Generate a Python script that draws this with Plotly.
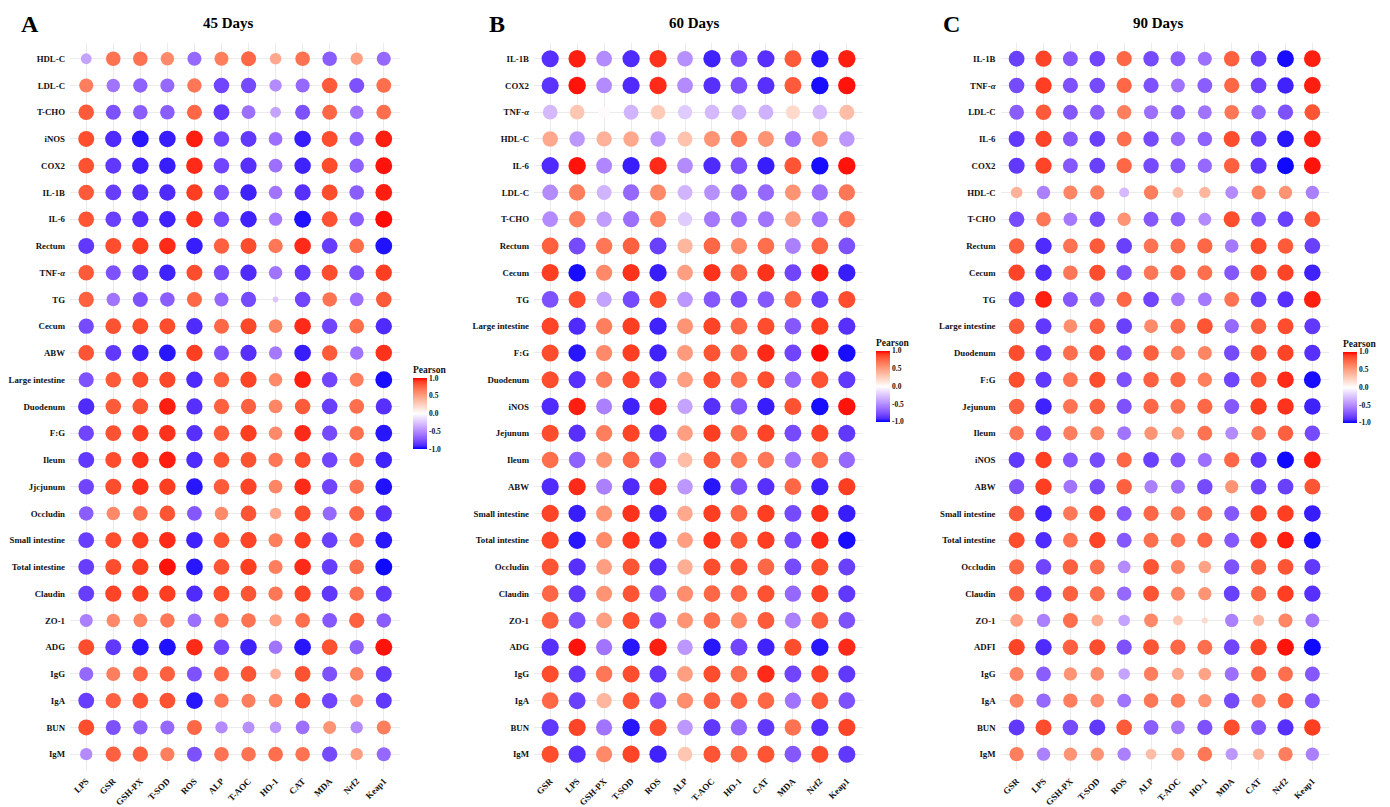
import plotly.graph_objects as go

# ---------------- data ----------------
cols_A = ["LPS", "GSR", "GSH-PX", "T-SOD", "ROS", "ALP", "T-AOC", "HO-1", "CAT", "MDA", "Nrf2", "Keap1"]
rows_A = ["HDL-C", "LDL-C", "T-CHO", "iNOS", "COX2", "IL-1B", "IL-6", "Rectum", "TNF-<i>α</i>", "TG",
          "Cecum", "ABW", "Large intestine", "Duodenum", "F:G", "Ileum", "Jjcjunum", "Occludin",
          "Small intestine", "Total intestine", "Claudin", "ZO-1", "ADG", "IgG", "IgA", "BUN", "IgM"]
vals_A = [
    [-0.4, 0.7, 0.7, 0.6, -0.65, 0.65, 0.75, 0.45, 0.7, -0.7, 0.5, -0.65],
    [0.65, -0.6, -0.68, -0.65, 0.68, -0.8, -0.78, -0.5, -0.65, 0.8, -0.75, 0.72],
    [0.8, -0.75, -0.7, -0.7, 0.75, -0.85, -0.62, -0.4, -0.75, 0.75, -0.6, 0.72],
    [0.85, -0.9, -0.95, -0.93, 0.95, -0.8, -0.85, -0.62, -0.93, 0.85, -0.68, 0.95],
    [0.83, -0.85, -0.92, -0.93, 0.93, -0.8, -0.88, -0.62, -0.92, 0.85, -0.68, 0.97],
    [0.8, -0.83, -0.88, -0.9, 0.9, -0.78, -0.92, -0.6, -0.88, 0.85, -0.7, 0.95],
    [0.82, -0.82, -0.88, -0.92, 0.92, -0.78, -0.92, -0.58, -0.96, 0.83, -0.7, 0.98],
    [-0.85, 0.85, 0.9, 0.93, -0.93, 0.78, 0.85, 0.68, 0.93, -0.83, 0.72, -0.96],
    [0.8, -0.75, -0.85, -0.92, 0.85, -0.78, -0.9, -0.6, -0.85, 0.85, -0.75, 0.9],
    [0.78, -0.6, -0.75, -0.7, 0.75, -0.65, -0.78, -0.25, -0.8, 0.7, -0.62, 0.8],
    [-0.78, 0.83, 0.85, 0.85, -0.9, 0.75, 0.87, 0.62, 0.93, -0.8, 0.72, -0.9],
    [0.82, -0.85, -0.92, -0.95, 0.9, -0.75, -0.88, -0.58, -0.93, 0.8, -0.6, 0.92],
    [-0.75, 0.8, 0.85, 0.87, -0.9, 0.78, 0.88, 0.6, 0.95, -0.8, 0.65, -0.97],
    [-0.9, 0.8, 0.82, 0.95, -0.88, 0.78, 0.78, 0.62, 0.8, -0.82, 0.72, -0.88],
    [-0.8, 0.83, 0.9, 0.92, -0.88, 0.8, 0.9, 0.6, 0.93, -0.78, 0.7, -0.95],
    [-0.85, 0.85, 0.92, 0.95, -0.9, 0.82, 0.83, 0.68, 0.85, -0.8, 0.72, -0.92],
    [-0.8, 0.85, 0.92, 0.9, -0.95, 0.8, 0.88, 0.62, 0.93, -0.8, 0.7, -0.96],
    [-0.7, 0.6, 0.72, 0.82, -0.72, 0.6, 0.82, 0.45, 0.85, -0.65, 0.75, -0.88],
    [-0.83, 0.85, 0.9, 0.93, -0.92, 0.82, 0.88, 0.65, 0.9, -0.82, 0.72, -0.95],
    [-0.83, 0.85, 0.9, 0.97, -0.95, 0.82, 0.9, 0.65, 0.93, -0.83, 0.72, -0.98],
    [-0.83, 0.88, 0.9, 0.9, -0.9, 0.85, 0.82, 0.68, 0.88, -0.85, 0.7, -0.85],
    [-0.55, 0.6, 0.62, 0.68, -0.62, 0.68, 0.7, 0.5, 0.72, -0.72, 0.78, -0.7],
    [0.85, -0.85, -0.95, -0.96, 0.93, -0.8, -0.92, -0.6, -0.95, 0.83, -0.68, 0.97],
    [-0.65, 0.65, 0.75, 0.78, -0.75, 0.75, 0.82, 0.4, 0.83, -0.75, 0.62, -0.85],
    [-0.83, 0.78, 0.82, 0.83, -0.95, 0.68, 0.65, 0.62, 0.82, -0.8, 0.55, -0.85],
    [0.85, -0.75, -0.68, -0.65, 0.75, -0.5, -0.48, -0.45, -0.62, 0.55, -0.5, 0.65],
    [-0.5, 0.78, 0.78, 0.65, -0.75, 0.7, 0.7, 0.72, 0.7, -0.78, 0.5, -0.65],
]

cols_B = ["GSR", "LPS", "GSH-PX", "T-SOD", "ROS", "ALP", "T-AOC", "HO-1", "CAT", "MDA", "Nrf2", "Keap1"]
rows_B = ["IL-1B", "COX2", "TNF-<i>α</i>", "HDL-C", "IL-6", "LDL-C", "T-CHO", "Rectum", "Cecum", "TG",
          "Large intestine", "F:G", "Duodenum", "iNOS", "Jejunum", "Ileum", "ABW", "Small intestine",
          "Total intestine", "Occludin", "Claudin", "ZO-1", "ADG", "IgG", "IgA", "BUN", "IgM"]
vals_B = [
    [-0.88, 0.95, -0.5, -0.9, 0.92, -0.48, -0.92, -0.75, -0.88, 0.8, -0.95, 0.95],
    [-0.87, 0.97, -0.5, -0.9, 0.93, -0.5, -0.88, -0.75, -0.88, 0.8, -0.97, 0.97],
    [-0.3, 0.3, 0.02, -0.32, 0.28, -0.22, -0.3, -0.33, -0.33, 0.2, -0.3, 0.35],
    [0.45, -0.45, 0.4, 0.45, -0.45, 0.32, 0.55, 0.65, 0.55, -0.6, 0.55, -0.45],
    [-0.9, 0.97, -0.52, -0.93, 0.93, -0.5, -0.9, -0.75, -0.93, 0.82, -0.97, 0.97],
    [-0.5, 0.65, -0.32, -0.65, 0.6, -0.32, -0.48, -0.65, -0.65, 0.55, -0.62, 0.68],
    [-0.5, 0.65, -0.42, -0.62, 0.62, -0.22, -0.58, -0.6, -0.6, 0.5, -0.6, 0.68],
    [0.78, -0.78, 0.68, 0.78, -0.82, 0.38, 0.75, 0.6, 0.72, -0.55, 0.75, -0.75],
    [0.9, -0.97, 0.6, 0.92, -0.93, 0.5, 0.92, 0.78, 0.92, -0.8, 0.95, -0.93],
    [-0.75, 0.85, -0.4, -0.78, 0.85, -0.45, -0.72, -0.75, -0.72, 0.75, -0.82, 0.85],
    [0.88, -0.9, 0.65, 0.9, -0.92, 0.55, 0.88, 0.75, 0.85, -0.72, 0.9, -0.88],
    [0.85, -0.95, 0.6, 0.9, -0.92, 0.52, 0.82, 0.75, 0.93, -0.8, 0.98, -0.97],
    [0.85, -0.88, 0.65, 0.88, -0.85, 0.5, 0.85, 0.7, 0.85, -0.65, 0.83, -0.85],
    [-0.9, 0.95, -0.55, -0.92, 0.93, -0.4, -0.88, -0.72, -0.93, 0.83, -0.97, 0.97],
    [0.85, -0.88, 0.65, 0.88, -0.9, 0.5, 0.9, 0.72, 0.88, -0.78, 0.88, -0.85],
    [0.72, -0.68, 0.55, 0.75, -0.68, 0.35, 0.8, 0.65, 0.68, -0.6, 0.72, -0.65],
    [-0.9, 0.93, -0.55, -0.9, 0.92, -0.45, -0.95, -0.75, -0.88, 0.75, -0.92, 0.9],
    [0.88, -0.93, 0.55, 0.92, -0.92, 0.45, 0.9, 0.75, 0.9, -0.78, 0.92, -0.93],
    [0.88, -0.95, 0.6, 0.92, -0.92, 0.5, 0.92, 0.8, 0.9, -0.78, 0.93, -0.97],
    [0.82, -0.88, 0.5, 0.82, -0.88, 0.42, 0.85, 0.83, 0.75, -0.78, 0.85, -0.82],
    [0.75, -0.85, 0.55, 0.82, -0.75, 0.58, 0.75, 0.75, 0.83, -0.65, 0.88, -0.85],
    [0.78, -0.75, 0.5, 0.85, -0.72, 0.55, 0.72, 0.6, 0.8, -0.55, 0.78, -0.75],
    [-0.88, 0.97, -0.6, -0.95, 0.95, -0.45, -0.95, -0.8, -0.92, 0.85, -0.95, 0.93],
    [0.85, -0.85, 0.68, 0.85, -0.85, 0.5, 0.85, 0.72, 0.93, -0.8, 0.88, -0.85],
    [0.75, -0.82, 0.38, 0.82, -0.72, 0.58, 0.78, 0.75, 0.75, -0.6, 0.8, -0.75],
    [-0.85, 0.88, -0.6, -0.95, 0.85, -0.45, -0.85, -0.65, -0.85, 0.7, -0.88, 0.88],
    [0.85, -0.88, 0.6, 0.88, -0.92, 0.3, 0.82, 0.75, 0.82, -0.72, 0.85, -0.85],
]

cols_C = ["GSR", "LPS", "GSH-PX", "T-SOD", "ROS", "ALP", "T-AOC", "HO-1", "MDA", "CAT", "Nrf2", "Keap1"]
rows_C = ["IL-1B", "TNF-<i>α</i>", "LDL-C", "IL-6", "COX2", "HDL-C", "T-CHO", "Rectum", "Cecum", "TG",
          "Large intestine", "Duodenum", "F:G", "Jejunum", "Ileum", "iNOS", "ABW", "Small intestine",
          "Total intestine", "Occludin", "Claudin", "ZO-1", "ADFI", "IgG", "IgA", "BUN", "IgM"]
vals_C = [
    [-0.82, 0.88, -0.72, -0.8, 0.75, -0.78, -0.7, -0.62, 0.78, -0.82, -0.97, 0.95],
    [-0.78, 0.9, -0.75, -0.78, 0.75, -0.75, -0.6, -0.7, 0.75, -0.8, -0.92, 0.95],
    [-0.7, 0.8, -0.72, -0.7, 0.65, -0.62, -0.68, -0.6, 0.68, -0.65, -0.75, 0.82],
    [-0.85, 0.88, -0.72, -0.82, 0.72, -0.78, -0.65, -0.68, 0.85, -0.82, -0.95, 0.95],
    [-0.85, 0.88, -0.72, -0.82, 0.75, -0.78, -0.72, -0.65, 0.78, -0.85, -0.98, 0.97],
    [0.4, -0.55, 0.62, 0.65, -0.3, 0.65, 0.35, 0.38, -0.5, 0.62, 0.55, -0.55],
    [-0.78, 0.68, -0.58, -0.78, 0.55, -0.72, -0.68, -0.5, 0.85, -0.72, -0.82, 0.82],
    [0.78, -0.9, 0.7, 0.8, -0.82, 0.7, 0.72, 0.75, -0.58, 0.85, 0.8, -0.82],
    [0.88, -0.9, 0.68, 0.85, -0.75, 0.68, 0.75, 0.72, -0.72, 0.85, 0.88, -0.92],
    [-0.82, 0.95, -0.72, -0.7, 0.75, -0.8, -0.58, -0.58, 0.7, -0.82, -0.88, 0.95],
    [0.8, -0.85, 0.58, 0.78, -0.82, 0.6, 0.72, 0.82, -0.65, 0.78, 0.85, -0.85],
    [0.85, -0.85, 0.72, 0.83, -0.75, 0.78, 0.65, 0.62, -0.78, 0.83, 0.88, -0.88],
    [0.85, -0.85, 0.7, 0.85, -0.75, 0.78, 0.75, 0.65, -0.8, 0.82, 0.93, -0.97],
    [0.78, -0.92, 0.7, 0.78, -0.75, 0.75, 0.7, 0.75, -0.72, 0.9, 0.92, -0.92],
    [0.68, -0.8, 0.65, 0.62, -0.6, 0.55, 0.5, 0.7, -0.5, 0.68, 0.78, -0.78],
    [-0.85, 0.9, -0.72, -0.78, 0.75, -0.82, -0.72, -0.62, 0.75, -0.85, -0.98, 0.95],
    [-0.75, 0.9, -0.6, -0.78, 0.78, -0.55, -0.62, -0.78, 0.55, -0.8, -0.82, 0.82],
    [0.8, -0.92, 0.68, 0.85, -0.72, 0.75, 0.68, 0.72, -0.72, 0.88, 0.9, -0.93],
    [0.85, -0.9, 0.7, 0.88, -0.72, 0.72, 0.68, 0.75, -0.72, 0.9, 0.95, -0.97],
    [0.75, -0.8, 0.78, 0.72, -0.5, 0.82, 0.62, 0.48, -0.75, 0.78, 0.82, -0.85],
    [0.78, -0.85, 0.78, 0.72, -0.65, 0.82, 0.62, 0.55, -0.82, 0.75, 0.9, -0.88],
    [0.5, -0.55, 0.72, 0.42, -0.4, 0.6, 0.3, 0.2, -0.55, 0.38, 0.62, -0.6],
    [0.88, -0.9, 0.78, 0.85, -0.75, 0.82, 0.75, 0.72, -0.8, 0.88, 0.97, -0.98],
    [0.62, -0.7, 0.55, 0.58, -0.4, 0.65, 0.45, 0.48, -0.62, 0.75, 0.72, -0.72],
    [0.62, -0.65, 0.65, 0.58, -0.6, 0.68, 0.65, 0.55, -0.78, 0.62, 0.78, -0.72],
    [-0.85, 0.85, -0.78, -0.85, 0.8, -0.7, -0.58, -0.75, 0.85, -0.72, -0.88, 0.9],
    [0.65, -0.55, 0.55, 0.55, -0.55, 0.35, 0.52, 0.68, -0.45, 0.4, 0.65, -0.55],
]

panel_letters = ["A", "B", "C"]
panel_titles = ["45 Days", "60 Days", "90 Days"]
cbar_ticks = [-1.0, -0.5, 0.0, 0.5, 1.0]

# ---------------- colour scale (blue - white - red, Lab interpolation) ----------------
def _lin(c):
    c = c / 255.0
    return c / 12.92 if c <= 0.04045 else ((c + 0.055) / 1.055) ** 2.4

def _to_lab(rgb):
    r, g, b = [_lin(v) for v in rgb]
    X = (0.4124 * r + 0.3576 * g + 0.1805 * b) / 0.95047
    Y = (0.2126 * r + 0.7152 * g + 0.0722 * b)
    Z = (0.0193 * r + 0.1192 * g + 0.9505 * b) / 1.08883
    f = lambda t: t ** (1 / 3) if t > 0.008856 else 7.787 * t + 16 / 116
    fx, fy, fz = f(X), f(Y), f(Z)
    return (116 * fy - 16, 500 * (fx - fy), 200 * (fy - fz))

def _from_lab(lab):
    L, a, b = lab
    fy = (L + 16) / 116
    fx = fy + a / 500
    fz = fy - b / 200
    inv = lambda t: t ** 3 if t ** 3 > 0.008856 else (t - 16 / 116) / 7.787
    X, Y, Z = 0.95047 * inv(fx), inv(fy), 1.08883 * inv(fz)
    r = 3.2406 * X - 1.5372 * Y - 0.4986 * Z
    g = -0.9689 * X + 1.8758 * Y + 0.0415 * Z
    bb = 0.0557 * X - 0.2040 * Y + 1.0570 * Z
    def gam(c):
        c = min(max(c, 0.0), 1.0)
        c = 12.92 * c if c <= 0.0031308 else 1.055 * c ** (1 / 2.4) - 0.055
        return int(round(min(max(c, 0), 1) * 255))
    return "rgb(%d,%d,%d)" % (gam(r), gam(g), gam(bb))

lab_lo, lab_mid, lab_hi = _to_lab((0, 0, 255)), _to_lab((255, 255, 255)), _to_lab((255, 0, 0))
colorscale = []
N = 20
for i in range(N + 1):
    t = i / N
    if t <= 0.5:
        u = t / 0.5
        lab = tuple(lab_lo[k] + (lab_mid[k] - lab_lo[k]) * u for k in range(3))
    else:
        u = (t - 0.5) / 0.5
        lab = tuple(lab_mid[k] + (lab_hi[k] - lab_mid[k]) * u for k in range(3))
    colorscale.append([t, _from_lab(lab)])

# ---------------- figure ----------------
W, H = 1390, 807
SERIF = "Liberation Serif, Times New Roman, serif"

x_dom = [(70, 400), (534, 863), (1000.5, 1328.5)]
y_dom = (43, 776)
cbar_pos = [(413, 409), (876, 381.5), (1343, 382.5)]
size_range = [(5.7, 17.0), (11.5, 17.5), (6.0, 17.0)]   # min/max marker diameter per panel (px)
letter_x = [30, 497, 951]
title_x = [228, 694, 1158]

panels = [(rows_A, cols_A, vals_A), (rows_B, cols_B, vals_B), (rows_C, cols_C, vals_C)]

fig = go.Figure()
layout = dict(width=W, height=H, margin=dict(l=0, r=0, t=0, b=0),
              paper_bgcolor="white", plot_bgcolor="white", showlegend=False,
              font=dict(family=SERIF, color="black"))
annotations = []

for p, (rows, cols, vals) in enumerate(panels):
    n = p + 1
    xs, ys, rs = [], [], []
    for i, row in enumerate(rows):
        for j, col in enumerate(cols):
            xs.append(col)
            ys.append(row)
            rs.append(vals[i][j])
    # area-style size scale rescaled over the panel's |r| range
    a_min = min(abs(r) for r in rs)
    a_max = max(abs(r) for r in rs)
    dmin, dmax = size_range[p]
    sizes = [dmin + (dmax - dmin) * ((abs(r) - a_min) / (a_max - a_min)) ** 0.5 for r in rs]
    ca = "coloraxis" if n == 1 else "coloraxis%d" % n
    fig.add_trace(go.Scatter(
        x=xs, y=ys, mode="markers",
        xaxis="x" if n == 1 else "x%d" % n,
        yaxis="y" if n == 1 else "y%d" % n,
        marker=dict(size=sizes, sizemode="diameter",
                    color=rs, coloraxis=ca, line=dict(width=0), opacity=1),
        hovertemplate="%{y} / %{x}: %{marker.color:.2f}<extra></extra>",
    ))
    xd = [x_dom[p][0] / W, x_dom[p][1] / W]
    yd = [1 - y_dom[1] / H, 1 - y_dom[0] / H]
    xk = "xaxis" if n == 1 else "xaxis%d" % n
    yk = "yaxis" if n == 1 else "yaxis%d" % n
    layout[xk] = dict(domain=xd, anchor="y" if n == 1 else "y%d" % n,
                      type="category", categoryorder="array", categoryarray=cols,
                      range=[-0.6, len(cols) - 0.4], showgrid=True, gridcolor="#ebebeb",
                      gridwidth=1.3, zeroline=False, showline=False, ticks="",
                      tickangle=-45, ticklabelstandoff=3,
                      tickfont=dict(family=SERIF, size=9, color="#111111", weight="bold"))
    layout[yk] = dict(domain=yd, anchor="x" if n == 1 else "x%d" % n,
                      type="category", categoryorder="array", categoryarray=rows,
                      range=[len(rows) - 0.4, -0.6], showgrid=True, gridcolor="#ebebeb",
                      gridwidth=1.3, zeroline=False, showline=False, ticks="",
                      ticklabelstandoff=4,
                      tickfont=dict(family=SERIF, size=8.8, color="#111111", weight="bold"))
    cx, cy = cbar_pos[p]
    layout[ca] = dict(cmin=-1, cmax=1, colorscale=colorscale,
                      colorbar=dict(
                          title=dict(text="Pearson", side="top",
                                     font=dict(family=SERIF, size=9.5, color="#111111", weight="bold")),
                          x=cx / W, xanchor="left", y=1 - cy / H, yanchor="middle",
                          len=86, lenmode="pixels", thickness=14, thicknessmode="pixels",
                          tickvals=cbar_ticks, ticktext=["%.1f" % v for v in cbar_ticks],
                          ticks="", outlinewidth=0, xpad=0, ypad=0,
                          tickfont=dict(family=SERIF, size=7.5, color="#111111", weight="bold")))
    annotations.append(dict(text=panel_letters[p], x=letter_x[p] / W, y=1 - 24 / H,
                            xref="paper", yref="paper", xanchor="center", yanchor="middle",
                            showarrow=False,
                            font=dict(family=SERIF, size=24, color="black", weight="bold")))
    annotations.append(dict(text=panel_titles[p], x=title_x[p] / W, y=1 - 23 / H,
                            xref="paper", yref="paper", xanchor="center", yanchor="middle",
                            showarrow=False,
                            font=dict(family=SERIF, size=15, color="black", weight="bold")))

layout["annotations"] = annotations
fig.update_layout(**layout)
fig.write_html("out.html")
